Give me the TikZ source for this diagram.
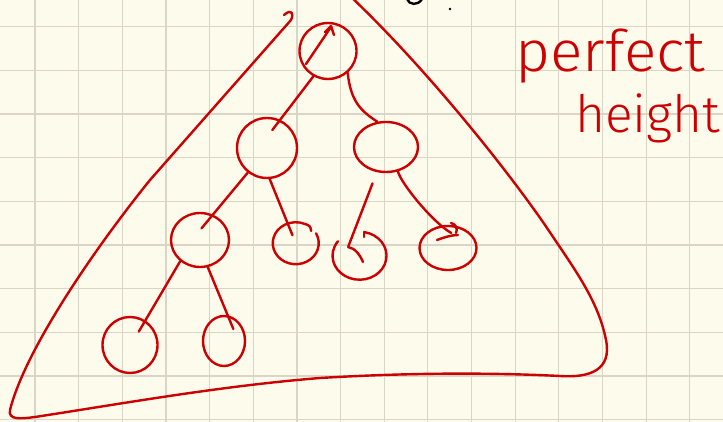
\documentclass[tikz,border=0pt]{standalone}
\usepackage{fontspec}
\setmainfont{Liberation Sans}
\IfFontExistsTF{Fira Sans Light}{\newfontfamily\handfont{Fira Sans Light}}{\newfontfamily\handfont{Liberation Sans}}
\usetikzlibrary{shapes.geometric}
\definecolor{paper}{RGB}{253,251,236}
\definecolor{gridc}{RGB}{217,214,200}
\definecolor{inkred}{RGB}{204,0,0}
\begin{document}
\begin{tikzpicture}[x=1pt,y=-1pt,
  ink/.style={draw=inkred, line width=2.4pt, line cap=round, line join=round},
  bubble/.style={ellipse, ink, inner sep=0pt},
  ghost/.style={ellipse, draw=none, inner sep=0pt},
  gridline/.style={draw=gridc, line width=1.2pt},
  word/.style={text=inkred, inner sep=0pt, font=\handfont\fontsize{52}{60}\selectfont}]
\useasboundingbox (0,0) rectangle (723,422);
\fill[paper] (0,0) rectangle (723,422);
\begin{scope}
\clip (0,0) rectangle (723,422);
\foreach \k in {0,...,15} \draw[gridline] ({35+43.65*\k},0) -- ({35+43.65*\k},422);
\foreach \k in {0,...,9} \draw[gridline] (0,{26.7+43.65*\k}) -- (723,{26.7+43.65*\k});

% black marks at the top
\draw[line width=2.4pt, line cap=round] (407,-1) .. controls (409,5) and (418,6) .. (422,-1);
\fill (450,9) circle (1.4pt);

% big triangle
\draw[ink] (291,20) -- (150,180) .. controls (95,248) and (25,350) .. (10,410)
  .. controls (8,420) and (20,419) .. (35,417)
  .. controls (120,404) and (220,386) .. (320,378)
  .. controls (420,372) and (500,373) .. (560,376)
  .. controls (590,378) and (612,370) .. (606,340)
  .. controls (598,300) and (575,270) .. (545,225)
  .. controls (500,160) and (420,62) .. (349,-5);
\draw[ink] (291,20) .. controls (294,14) and (292,8) .. (284,15);

% nodes
\node[bubble, minimum width=57pt, minimum height=56pt] (root) at (328,51) {};
\node[bubble, minimum width=60pt, minimum height=60pt] (L1) at (267,148) {};
\node[bubble, minimum width=64pt, minimum height=50pt] (R1) at (386,147) {};
\node[bubble, minimum width=58pt, minimum height=54pt] (LL) at (200,240) {};
\node[ghost, minimum width=46pt, minimum height=42pt] (LR) at (296,244) {};
\node[ghost, minimum width=54pt, minimum height=48pt] (RL) at (360,256) {};
\node[bubble, minimum width=57pt, minimum height=44pt] (RR) at (448,248) {};
\node[bubble, minimum width=55pt, minimum height=56pt] (LLL) at (130,345) {};
\node[bubble, minimum width=42pt, minimum height=50pt] (LLR) at (224,341) {};

% open loops
\draw[ink] (LR.28) arc[start angle=28, end angle=-294, x radius=23pt, y radius=21pt]
  .. controls +(4,1) and +(0,-4) .. +(6,7);
\draw[ink] (RL.80) arc[start angle=80, end angle=-217, x radius=27pt, y radius=24pt];
\draw[ink] (RL.80) -- +(0,5);

% strokes inside nodes
\draw[ink] (306,64) -- (331,27);
\draw[ink] (325,32) -- (331,26) -- (334,35);
\draw[ink] (437,240) .. controls (445,237) and (452,235) .. (458,235);
\draw[ink] (451,223) .. controls (456,224) and (458,229) .. (456,233);

% connectors
\draw[ink, shorten >=-13pt] (root.240) -- (L1.65);
\draw[ink] (root.312) .. controls +(3,28) and +(-17,-11) .. (R1.109);
\draw[ink, shorten >=-18pt] (L1.232) -- (LL.63);
\draw[ink, shorten >=-12pt] (L1.275) -- (LR.112);
\draw[ink, shorten <=12pt, shorten >=-15pt] (R1.250) -- (RL.105);
\draw[ink] (R1.296) .. controls +(3,12) and +(-18,-10) .. ([yshift=-8pt]RR.82);
\draw[ink, shorten >=-13pt] (LL.227) -- (LLL.58);
\draw[ink, shorten >=-15pt] (LL.286) -- (LLR.82);
\draw[ink] (348,247) .. controls (355,248) and (360,255) .. (363,262);

% label
\node[word, anchor=base west] (t1) at (515,72) {\resizebox{190pt}{!}{\scalebox{1}[0.95]{perfect}}};
\node[word, anchor=base west] (t2) at (575,133) {\resizebox{145pt}{!}{height}};
\end{scope}
\end{tikzpicture}
\end{document}
